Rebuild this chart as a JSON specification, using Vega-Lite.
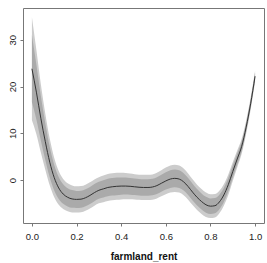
{
  "$schema": "https://vega.github.io/schema/vega-lite/v6.json",
  "autosize": "none",
  "padding": {"left": 23, "top": 8, "right": 3, "bottom": 40},
  "width": 241,
  "height": 215,
  "background": "white",
  "config": {
    "view": {"stroke": "#777777", "strokeWidth": 1},
    "axis": {"labelFont": "Liberation Sans", "titleFont": "Liberation Sans", "labelColor": "#222", "titleColor": "#111", "tickColor": "#777", "domain": false, "grid": false, "labelFontSize": 9.5, "tickSize": 3}
  },
  "data": {"values": [
    {"x": 0.00, "m": 23.8, "lo2": 12.8, "hi2": 34.8, "lo1": 16.65, "hi1": 30.95},
    {"x": 0.02, "m": 18.8, "lo2": 9.8, "hi2": 27.8, "lo1": 12.95, "hi1": 24.65},
    {"x": 0.04, "m": 13.2, "lo2": 5.9, "hi2": 20.5, "lo1": 8.45, "hi1": 17.95},
    {"x": 0.06, "m": 8.2, "lo2": 2.2, "hi2": 14.2, "lo1": 4.3, "hi1": 12.1},
    {"x": 0.08, "m": 3.8, "lo2": -1.2, "hi2": 8.8, "lo1": 0.55, "hi1": 7.05},
    {"x": 0.10, "m": 0.5, "lo2": -3.7, "hi2": 4.7, "lo1": -2.23, "hi1": 3.23},
    {"x": 0.12, "m": -1.7, "lo2": -5.3, "hi2": 1.9, "lo1": -4.04, "hi1": 0.64},
    {"x": 0.14, "m": -3.0, "lo2": -6.2, "hi2": 0.2, "lo1": -5.08, "hi1": -0.92},
    {"x": 0.16, "m": -3.7, "lo2": -6.7, "hi2": -0.7, "lo1": -5.65, "hi1": -1.75},
    {"x": 0.18, "m": -4.05, "lo2": -6.95, "hi2": -1.15, "lo1": -5.94, "hi1": -2.16},
    {"x": 0.20, "m": -4.15, "lo2": -6.95, "hi2": -1.35, "lo1": -5.97, "hi1": -2.33},
    {"x": 0.22, "m": -4.1, "lo2": -6.9, "hi2": -1.3, "lo1": -5.92, "hi1": -2.28},
    {"x": 0.24, "m": -3.8, "lo2": -6.6, "hi2": -1.0, "lo1": -5.62, "hi1": -1.98},
    {"x": 0.26, "m": -3.3, "lo2": -6.1, "hi2": -0.5, "lo1": -5.12, "hi1": -1.48},
    {"x": 0.28, "m": -2.7, "lo2": -5.5, "hi2": 0.1, "lo1": -4.52, "hi1": -0.88},
    {"x": 0.30, "m": -2.2, "lo2": -5.0, "hi2": 0.6, "lo1": -4.02, "hi1": -0.38},
    {"x": 0.32, "m": -1.9, "lo2": -4.75, "hi2": 0.95, "lo1": -3.75, "hi1": -0.05},
    {"x": 0.34, "m": -1.6, "lo2": -4.5, "hi2": 1.3, "lo1": -3.49, "hi1": 0.29},
    {"x": 0.36, "m": -1.45, "lo2": -4.35, "hi2": 1.45, "lo1": -3.34, "hi1": 0.44},
    {"x": 0.38, "m": -1.35, "lo2": -4.25, "hi2": 1.55, "lo1": -3.24, "hi1": 0.54},
    {"x": 0.40, "m": -1.3, "lo2": -4.15, "hi2": 1.55, "lo1": -3.15, "hi1": 0.55},
    {"x": 0.42, "m": -1.3, "lo2": -4.1, "hi2": 1.5, "lo1": -3.12, "hi1": 0.52},
    {"x": 0.44, "m": -1.35, "lo2": -4.1, "hi2": 1.4, "lo1": -3.14, "hi1": 0.44},
    {"x": 0.46, "m": -1.45, "lo2": -4.15, "hi2": 1.25, "lo1": -3.21, "hi1": 0.31},
    {"x": 0.48, "m": -1.55, "lo2": -4.25, "hi2": 1.15, "lo1": -3.31, "hi1": 0.21},
    {"x": 0.50, "m": -1.6, "lo2": -4.3, "hi2": 1.1, "lo1": -3.36, "hi1": 0.16},
    {"x": 0.52, "m": -1.6, "lo2": -4.3, "hi2": 1.1, "lo1": -3.36, "hi1": 0.16},
    {"x": 0.54, "m": -1.5, "lo2": -4.2, "hi2": 1.2, "lo1": -3.26, "hi1": 0.26},
    {"x": 0.56, "m": -1.2, "lo2": -3.95, "hi2": 1.55, "lo1": -2.99, "hi1": 0.59},
    {"x": 0.58, "m": -0.7, "lo2": -3.5, "hi2": 2.1, "lo1": -2.52, "hi1": 1.12},
    {"x": 0.60, "m": -0.2, "lo2": -3.05, "hi2": 2.65, "lo1": -2.05, "hi1": 1.65},
    {"x": 0.62, "m": 0.2, "lo2": -2.7, "hi2": 3.1, "lo1": -1.69, "hi1": 2.09},
    {"x": 0.64, "m": 0.35, "lo2": -2.55, "hi2": 3.25, "lo1": -1.54, "hi1": 2.24},
    {"x": 0.66, "m": 0.2, "lo2": -2.7, "hi2": 3.1, "lo1": -1.69, "hi1": 2.09},
    {"x": 0.68, "m": -0.4, "lo2": -3.25, "hi2": 2.45, "lo1": -2.25, "hi1": 1.45},
    {"x": 0.70, "m": -1.4, "lo2": -4.2, "hi2": 1.4, "lo1": -3.22, "hi1": 0.42},
    {"x": 0.72, "m": -2.6, "lo2": -5.35, "hi2": 0.15, "lo1": -4.39, "hi1": -0.81},
    {"x": 0.74, "m": -3.7, "lo2": -6.4, "hi2": -1.0, "lo1": -5.46, "hi1": -1.94},
    {"x": 0.76, "m": -4.6, "lo2": -7.25, "hi2": -1.95, "lo1": -6.32, "hi1": -2.88},
    {"x": 0.78, "m": -5.3, "lo2": -7.9, "hi2": -2.7, "lo1": -6.99, "hi1": -3.61},
    {"x": 0.80, "m": -5.6, "lo2": -8.15, "hi2": -3.05, "lo1": -7.26, "hi1": -3.94},
    {"x": 0.82, "m": -5.5, "lo2": -8.0, "hi2": -3.0, "lo1": -7.13, "hi1": -3.87},
    {"x": 0.84, "m": -4.7, "lo2": -7.1, "hi2": -2.3, "lo1": -6.26, "hi1": -3.14},
    {"x": 0.86, "m": -3.2, "lo2": -5.5, "hi2": -0.9, "lo1": -4.7, "hi1": -1.7},
    {"x": 0.88, "m": -1.0, "lo2": -3.2, "hi2": 1.2, "lo1": -2.43, "hi1": 0.43},
    {"x": 0.90, "m": 1.8, "lo2": -0.2, "hi2": 3.8, "lo1": 0.5, "hi1": 3.1},
    {"x": 0.92, "m": 4.5, "lo2": 2.7, "hi2": 6.3, "lo1": 3.33, "hi1": 5.67},
    {"x": 0.94, "m": 7.2, "lo2": 5.6, "hi2": 8.8, "lo1": 6.16, "hi1": 8.24},
    {"x": 0.96, "m": 11.3, "lo2": 9.9, "hi2": 12.7, "lo1": 10.39, "hi1": 12.21},
    {"x": 0.98, "m": 16.3, "lo2": 15.0, "hi2": 17.6, "lo1": 15.45, "hi1": 17.15},
    {"x": 1.00, "m": 22.2, "lo2": 21.0, "hi2": 23.4, "lo1": 21.42, "hi1": 22.98}
  ]},
  "encoding": {
    "x": {"field": "x", "type": "quantitative",
      "scale": {"domain": [-0.04, 1.04], "nice": false, "zero": false},
      "axis": {"values": [0, 0.2, 0.4, 0.6, 0.8, 1.0], "format": ".1f", "title": "farmland_rent", "titleFontWeight": "bold", "titleFontSize": 10, "labelPadding": 5, "titlePadding": 11}}
  },
  "layer": [
    {"mark": {"type": "area", "color": "#cccccc", "interpolate": "monotone", "clip": true},
     "encoding": {
       "y": {"field": "lo2", "type": "quantitative",
         "scale": {"domain": [-9.2, 36.8], "nice": false, "zero": false},
         "axis": {"values": [0, 10, 20, 30], "title": null, "labelAngle": 270, "labelAlign": "center", "labelBaseline": "bottom", "labelPadding": 3}},
       "y2": {"field": "hi2"}}},
    {"mark": {"type": "area", "color": "#aaaaaa", "interpolate": "monotone", "clip": true},
     "encoding": {"y": {"field": "lo1", "type": "quantitative"}, "y2": {"field": "hi1"}}},
    {"mark": {"type": "line", "color": "#333333", "strokeWidth": 1, "interpolate": "monotone", "clip": true},
     "encoding": {"y": {"field": "m", "type": "quantitative"}}}
  ]
}
